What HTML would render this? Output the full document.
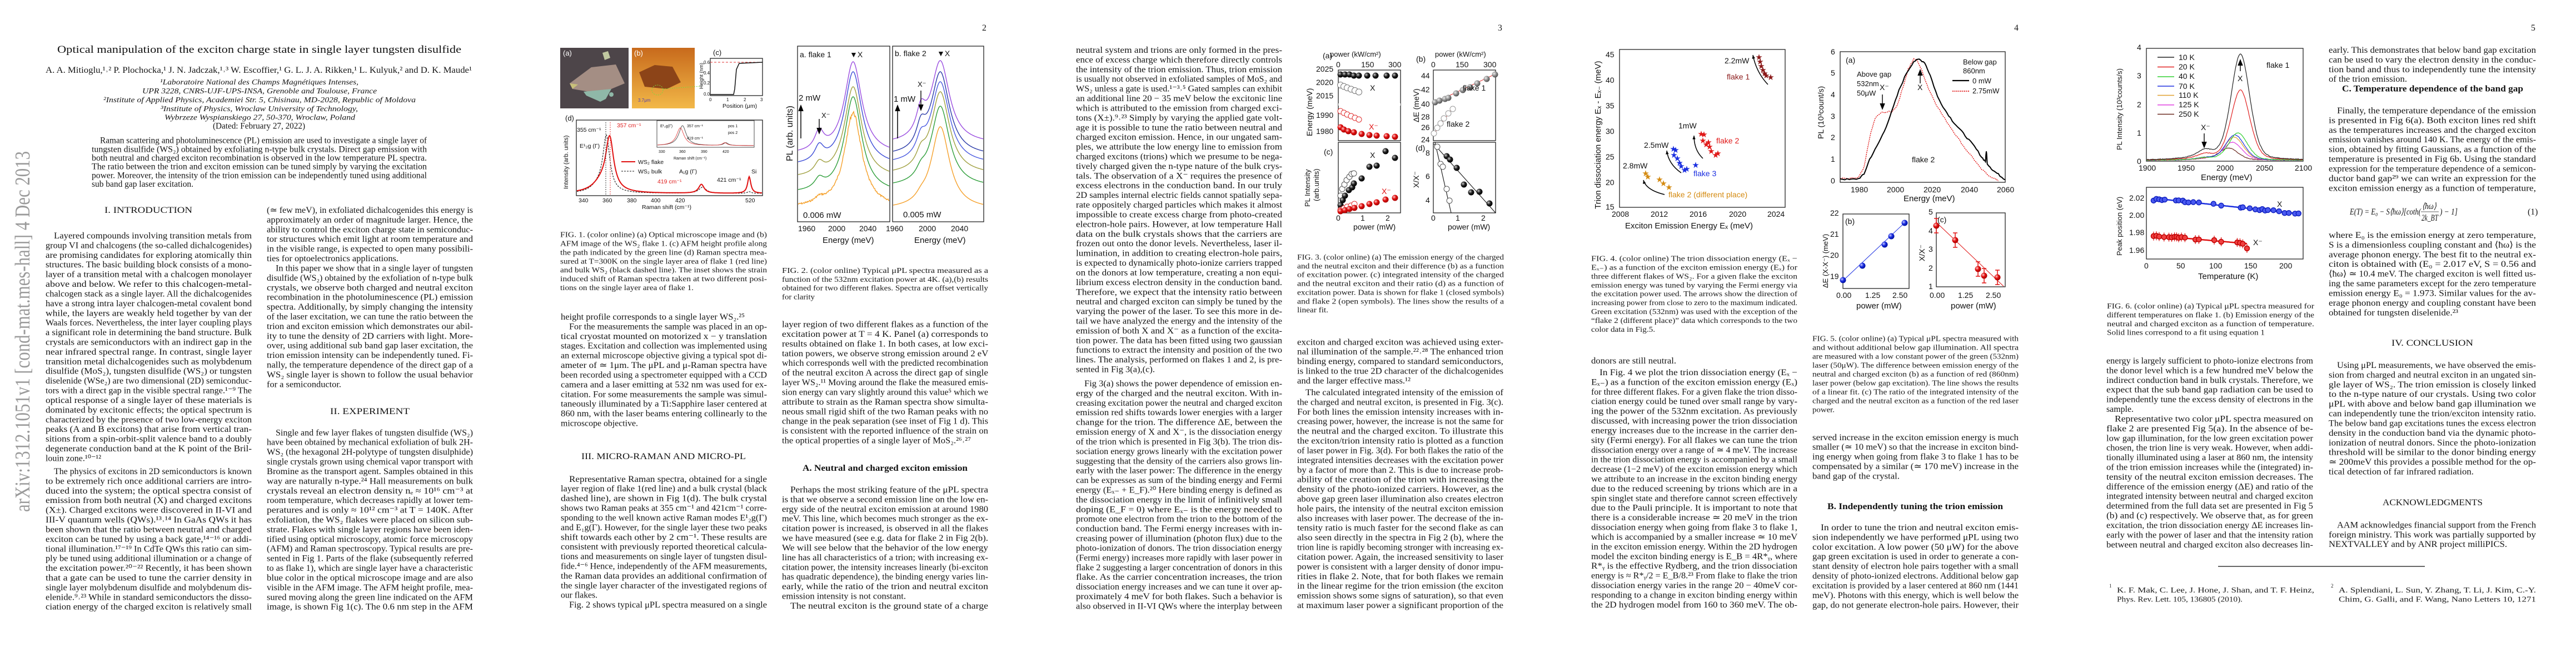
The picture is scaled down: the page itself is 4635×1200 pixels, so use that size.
<!DOCTYPE html>
<html><head><meta charset="utf-8">
<style>
html,body{margin:0;padding:0;background:#fff;}
svg{display:block;}
.b{font-family:"Liberation Serif",serif;font-size:15.8px;fill:#151515;}
.c{font-family:"Liberation Serif",serif;font-size:14px;fill:#1a1a1a;}
.h{font-family:"Liberation Serif",serif;font-size:15.5px;fill:#111;font-weight:bold;}
.s{font-family:"Liberation Sans",sans-serif;font-size:13px;fill:#111;}
.sm{font-family:"Liberation Sans",sans-serif;font-size:10.5px;fill:#111;}
.fr{fill:none;stroke:#222;stroke-width:1.3;}
</style></head><body>
<svg id="root" width="4635" height="1200" viewBox="0 0 4635 1200" xmlns="http://www.w3.org/2000/svg">
<defs>
<radialGradient id="gk" cx="35%" cy="35%" r="65%"><stop offset="0" stop-color="#ccc"/><stop offset="0.5" stop-color="#222"/><stop offset="1" stop-color="#000"/></radialGradient>
<radialGradient id="gr" cx="35%" cy="35%" r="65%"><stop offset="0" stop-color="#fcc"/><stop offset="0.5" stop-color="#e01010"/><stop offset="1" stop-color="#a00"/></radialGradient>
<radialGradient id="gg" cx="35%" cy="35%" r="65%"><stop offset="0" stop-color="#eee"/><stop offset="0.6" stop-color="#888"/><stop offset="1" stop-color="#555"/></radialGradient>
<radialGradient id="gb" cx="35%" cy="35%" r="65%"><stop offset="0" stop-color="#ccf"/><stop offset="0.5" stop-color="#1a2ee0"/><stop offset="1" stop-color="#0010a0"/></radialGradient>
<linearGradient id="afm" x1="0" y1="0" x2="0" y2="1"><stop offset="0" stop-color="#c86a1c"/><stop offset="1" stop-color="#f2b848"/></linearGradient>
</defs>
<rect width="4635" height="1200" fill="#fff"/>

<!-- arXiv stamp -->
<text transform="rotate(-90)" x="-921" y="53" textLength="649" style="font-family:'Liberation Serif',serif;font-size:38px;fill:#9a9a9a;">arXiv:1312.1051v1  [cond-mat.mes-hall]  4 Dec 2013</text>

<!-- ================= PAGE 1 ================= -->
<text x="103" y="95" textLength="727" style="font-family:'Liberation Serif',serif;font-size:19px;fill:#111;">Optical manipulation of the exciton charge state in single layer tungsten disulfide</text>
<text x="82" y="131" textLength="767" class="b">A. A. Mitioglu,¹˒² P. Plochocka,¹ J. N. Jadczak,¹˒³ W. Escoffier,¹ G. L. J. A. Rikken,¹ L. Kulyuk,² and D. K. Maude¹</text>
<g class="b" style="font-style:italic;font-size:14px">
<text x="288" y="152" textLength="357">¹Laboratoire National des Champs Magnétiques Intenses,</text>
<text x="256" y="168" textLength="422">UPR 3228, CNRS-UJF-UPS-INSA, Grenoble and Toulouse, France</text>
<text x="186" y="184" textLength="562">²Institute of Applied Physics, Academiei Str. 5, Chisinau, MD-2028, Republic of Moldova</text>
<text x="289" y="200" textLength="355">³Institute of Physics, Wroclaw University of Technology,</text>
<text x="296" y="215.5" textLength="343">Wybrzeze Wyspianskiego 27, 50-370, Wroclaw, Poland</text>
</g>
<text x="383" y="231.5" textLength="166" class="b">(Dated: February 27, 2022)</text>
<text class="b">
<tspan x="180" y="257.6" textLength="588">Raman scattering and photoluminescence (PL) emission are used to investigate a single layer of</tspan>
<tspan x="165" dy="15.7" textLength="603">tungsten disulfide (WS₂) obtained by exfoliating n-type bulk crystals. Direct gap emission with</tspan>
<tspan x="165" dy="15.7" textLength="603">both neutral and charged exciton recombination is observed in the low temperature PL spectra.</tspan>
<tspan x="165" dy="15.7" textLength="603">The ratio between the trion and exciton emission can be tuned simply by varying the excitation</tspan>
<tspan x="165" dy="15.7" textLength="603">power. Moreover, the intensity of the trion emission can be independently tuned using additional</tspan>
<tspan x="165" dy="15.7" textLength="183">sub band gap laser excitation.</tspan>
</text>
<text x="188" y="383" textLength="158" class="b">I.   INTRODUCTION</text>

<text class="b">
<tspan x="97" y="429" textLength="356">Layered compounds involving transition metals from</tspan>
<tspan x="82" dy="17.41" textLength="371">group VI and chalcogens (the so-called dichalcogenides)</tspan>
<tspan x="82" dy="17.41" textLength="371">are promising candidates for exploring atomically thin</tspan>
<tspan x="82" dy="17.41" textLength="371">structures. The basic building block consists of a mono-</tspan>
<tspan x="82" dy="17.41" textLength="371">layer of a transition metal with a chalcogen monolayer</tspan>
<tspan x="82" dy="17.41" textLength="371">above and below. We refer to this chalcogen-metal-</tspan>
<tspan x="82" dy="17.41" textLength="371">chalcogen stack as a single layer. All the dichalcogenides</tspan>
<tspan x="82" dy="17.41" textLength="371">have a strong intra layer chalcogen-metal covalent bond</tspan>
<tspan x="82" dy="17.41" textLength="371">while, the layers are weakly held together by van der</tspan>
<tspan x="82" dy="17.41" textLength="371">Waals forces. Nevertheless, the inter layer coupling plays</tspan>
<tspan x="82" dy="17.41" textLength="371">a significant role in determining the band structure. Bulk</tspan>
<tspan x="82" dy="17.41" textLength="371">crystals are semiconductors with an indirect gap in the</tspan>
<tspan x="82" dy="17.41" textLength="371">near infrared spectral range. In contrast, single layer</tspan>
<tspan x="82" dy="17.41" textLength="371">transition metal dichalcogenides such as molybdenum</tspan>
<tspan x="82" dy="17.41" textLength="371">disulfide (MoS₂), tungsten disulfide (WS₂) or tungsten</tspan>
<tspan x="82" dy="17.41" textLength="371">diselenide (WSe₂) are two dimensional (2D) semiconduc-</tspan>
<tspan x="82" dy="17.41" textLength="371">tors with a direct gap in the visible spectral range.¹⁻⁹ The</tspan>
<tspan x="82" dy="17.41" textLength="371">optical response of a single layer of these materials is</tspan>
<tspan x="82" dy="17.41" textLength="371">dominated by excitonic effects; the optical spectrum is</tspan>
<tspan x="82" dy="17.41" textLength="371">characterized by the presence of two low-energy exciton</tspan>
<tspan x="82" dy="17.41" textLength="371">peaks (A and B excitons) that arise from vertical tran-</tspan>
<tspan x="82" dy="17.41" textLength="371">sitions from a spin-orbit-split valence band to a doubly</tspan>
<tspan x="82" dy="17.41" textLength="371">degenerate conduction band at the K point of the Bril-</tspan>
<tspan x="82" dy="17.41" textLength="100">louin zone.¹⁰⁻¹²</tspan>
</text>
<text class="b">
<tspan x="97" y="853" textLength="356">The physics of excitons in 2D semiconductors is known</tspan>
<tspan x="82" dy="17.41" textLength="371">to be extremely rich once additional carriers are intro-</tspan>
<tspan x="82" dy="17.41" textLength="371">duced into the system; the optical spectra consist of</tspan>
<tspan x="82" dy="17.41" textLength="371">emission from both neutral (X) and charged excitons</tspan>
<tspan x="82" dy="17.41" textLength="371">(X±). Charged excitons were discovered in II-VI and</tspan>
<tspan x="82" dy="17.41" textLength="371">III-V quantum wells (QWs).¹³˒¹⁴ In GaAs QWs it has</tspan>
<tspan x="82" dy="17.41" textLength="371">been shown that the ratio between neutral and charged</tspan>
<tspan x="82" dy="17.41" textLength="371">exciton can be tuned by using a back gate,¹⁴⁻¹⁶ or addi-</tspan>
<tspan x="82" dy="17.41" textLength="371">tional illumination.¹⁷⁻¹⁹ In CdTe QWs this ratio can sim-</tspan>
<tspan x="82" dy="17.41" textLength="371">ply be tuned using additional illumination or a change of</tspan>
<tspan x="82" dy="17.41" textLength="371">the excitation power.²⁰⁻²² Recently, it has been shown</tspan>
<tspan x="82" dy="17.41" textLength="371">that a gate can be used to tune the carrier density in</tspan>
<tspan x="82" dy="17.41" textLength="371">single layer molybdenum disulfide and molybdenum dis-</tspan>
<tspan x="82" dy="17.41" textLength="371">elenide.⁹˒²³ While in standard semiconductors the disso-</tspan>
<tspan x="82" dy="17.41" textLength="371">ciation energy of the charged exciton is relatively small</tspan>
</text>

<text class="b">
<tspan x="480" y="383" textLength="371">(≃ few meV), in exfoliated dichalcogenides this energy is</tspan>
<tspan x="480" dy="17.41" textLength="371">approximately an order of magnitude larger. Hence, the</tspan>
<tspan x="480" dy="17.41" textLength="371">ability to control the exciton charge state in semiconduc-</tspan>
<tspan x="480" dy="17.41" textLength="371">tor structures which emit light at room temperature and</tspan>
<tspan x="480" dy="17.41" textLength="371">in the visible range, is expected to open many possibili-</tspan>
<tspan x="480" dy="17.41" textLength="237">ties for optoelectronics applications.</tspan>
<tspan x="496" dy="17.41" textLength="355">In this paper we show that in a single layer of tungsten</tspan>
<tspan x="480" dy="17.41" textLength="371">disulfide (WS₂) obtained by the exfoliation of n-type bulk</tspan>
<tspan x="480" dy="17.41" textLength="371">crystals, we observe both charged and neutral exciton</tspan>
<tspan x="480" dy="17.41" textLength="371">recombination in the photoluminescence (PL) emission</tspan>
<tspan x="480" dy="17.41" textLength="371">spectra. Additionally, by simply changing the intensity</tspan>
<tspan x="480" dy="17.41" textLength="371">of the laser excitation, we can tune the ratio between the</tspan>
<tspan x="480" dy="17.41" textLength="371">trion and exciton emission which demonstrates our abil-</tspan>
<tspan x="480" dy="17.41" textLength="371">ity to tune the density of 2D carriers with light. More-</tspan>
<tspan x="480" dy="17.41" textLength="371">over, using additional sub band gap laser excitation, the</tspan>
<tspan x="480" dy="17.41" textLength="371">trion emission intensity can be independently tuned. Fi-</tspan>
<tspan x="480" dy="17.41" textLength="371">nally, the temperature dependence of the direct gap of a</tspan>
<tspan x="480" dy="17.41" textLength="371">WS₂ single layer is shown to follow the usual behavior</tspan>
<tspan x="480" dy="17.41" textLength="134">for a semiconductor.</tspan>
</text>
<text x="594" y="745" textLength="143" class="b">II.   EXPERIMENT</text>
<text class="b">
<tspan x="496" y="783.3" textLength="355">Single and few layer flakes of tungsten disulfide (WS₂)</tspan>
<tspan x="480" dy="17.41" textLength="371">have been obtained by mechanical exfoliation of bulk 2H-</tspan>
<tspan x="480" dy="17.41" textLength="371">WS₂ (the hexagonal 2H-polytype of tungsten disulphide)</tspan>
<tspan x="480" dy="17.41" textLength="371">single crystals grown using chemical vapor transport with</tspan>
<tspan x="480" dy="17.41" textLength="371">Bromine as the transport agent. Samples obtained in this</tspan>
<tspan x="480" dy="17.41" textLength="371">way are naturally n-type.²⁴ Hall measurements on bulk</tspan>
<tspan x="480" dy="17.41" textLength="371">crystals reveal an electron density nₑ ≈ 10¹⁶ cm⁻³ at</tspan>
<tspan x="480" dy="17.41" textLength="371">room temperature, which decreases rapidly at lower tem-</tspan>
<tspan x="480" dy="17.41" textLength="371">peratures and is only ≈ 10¹² cm⁻³ at T = 140K. After</tspan>
<tspan x="480" dy="17.41" textLength="371">exfoliation, the WS₂ flakes were placed on silicon sub-</tspan>
<tspan x="480" dy="17.41" textLength="371">strate. Flakes with single layer regions have been iden-</tspan>
<tspan x="480" dy="17.41" textLength="371">tified using optical microscopy, atomic force microscopy</tspan>
<tspan x="480" dy="17.41" textLength="371">(AFM) and Raman spectroscopy. Typical results are pre-</tspan>
<tspan x="480" dy="17.41" textLength="371">sented in Fig 1. Parts of the flake (subsequently referred</tspan>
<tspan x="480" dy="17.41" textLength="371">to as flake 1), which are single layer have a characteristic</tspan>
<tspan x="480" dy="17.41" textLength="371">blue color in the optical microscope image and are also</tspan>
<tspan x="480" dy="17.41" textLength="371">visible in the AFM image. The AFM height profile, mea-</tspan>
<tspan x="480" dy="17.41" textLength="371">sured moving along the green line indicated on the AFM</tspan>
<tspan x="480" dy="17.41" textLength="371">image, is shown Fig 1(c). The 0.6 nm step in the AFM</tspan>
</text>

<!-- ================= PAGE 2 ================= -->
<text x="1767" y="55" class="b">2</text>
<rect x="1008" y="86" width="123" height="109" fill="#4d4549"/>
<polygon points="1025,150 1064,121 1108,116 1124,150 1100,160 1060,165 1030,160" fill="#a48e84"/>
<polygon points="1025,150 1030,160 1040,152" fill="#c8c07a"/>
<polygon points="1050,165 1100,160 1090,178 1080,183 1055,172" fill="#8fb8a8"/>
<polygon points="1084,95 1094,92 1098,104 1088,108" fill="#c0c8a0"/>
<circle cx="1100" cy="170" r="4" fill="#8fb8a8"/>
<text x="1013" y="100" class="s" style="fill:#fff">(a)</text>
<rect x="1137" y="86" width="113" height="109" fill="url(#afm)"/>
<polygon points="1150,130 1178,117 1210,120 1225,148 1200,160 1160,156" fill="#8c4418"/>
<ellipse cx="1183" cy="162" rx="10" ry="9" fill="none" stroke="#7cd83c" stroke-dasharray="2,2"/>
<line x1="1193" y1="160" x2="1262" y2="155" stroke="#7cd83c" stroke-dasharray="2,2"/>
<text x="1141" y="100" class="s" style="fill:#fff">(b)</text>
<text x="1148" y="183" class="sm" style="fill:#5040b0;font-size:8px">3.7μm</text>
<text x="1283" y="99" class="s">(c)</text>
<rect x="1278" y="105" width="94" height="67" class="fr"/>
<line x1="1278" y1="112" x2="1372" y2="112" stroke="#e03030" stroke-dasharray="4,3"/>
<path d="M1278,170 L1320,170 L1322,160 L1325,125 L1330,114 L1372,112" fill="none" stroke="#111" stroke-width="1.5"/>
<g class="sm" style="font-size:8px"><text x="1266" y="172">0.0</text><text x="1266" y="152">0.2</text><text x="1266" y="134">0.4</text><text x="1266" y="115">0.6</text>
<text x="1276" y="182">0</text><text x="1307" y="182">1</text><text x="1338" y="182">2</text><text x="1368" y="182">3</text></g>
<text x="1300" y="194" class="sm">Position (μm)</text>
<text transform="translate(1265,160) rotate(-90)" class="sm" style="font-size:9px">Height (nm)</text>
<text x="1017" y="217" class="s">(d)</text>
<rect x="1037" y="216" width="335" height="136" class="fr"/>
<rect x="1182" y="217" width="175" height="48" class="fr" style="stroke-width:0.8"/>
<g id="f1"></g>
<line x1="1090" y1="220" x2="1090" y2="350" stroke="#333" stroke-dasharray="2,2"/>
<line x1="1098" y1="220" x2="1098" y2="350" stroke="#e03030" stroke-dasharray="2,2"/>
<text x="1038" y="237" class="sm">355 cm⁻¹</text>
<text x="1110" y="229" class="sm" style="fill:#e02020">357 cm⁻¹</text>
<text x="1043" y="266" class="sm">E¹₂g (Γ)</text>
<line x1="1118" y1="291" x2="1143" y2="291" stroke="#e01010" stroke-width="2"/>
<text x="1148" y="295" class="sm">WS₂ flake</text>
<line x1="1118" y1="308" x2="1143" y2="308" stroke="#111" stroke-dasharray="3,2"/>
<text x="1148" y="312" class="sm">WS₂ bulk</text>
<text x="1222" y="312" class="sm">A₁g (Γ)</text>
<text x="1183" y="330" class="sm" style="fill:#e02020">419 cm⁻¹</text>
<text x="1290" y="327" class="sm">421 cm⁻¹</text>
<text x="1352" y="312" class="sm">Si</text>
<g class="sm"><text x="1041" y="364">340</text><text x="1084" y="364">360</text><text x="1128" y="364">380</text><text x="1171" y="364">400</text><text x="1215" y="364">420</text><text x="1341" y="364">520</text></g>
<text x="1155" y="376" class="sm">Raman shift (cm⁻¹)</text>
<text transform="translate(1022,340) rotate(-90)" class="sm" style="font-size:11px">Intensity (arb. units)</text>
<g class="sm" style="font-size:7px"><text x="1185" y="275">330</text><text x="1222" y="275">360</text><text x="1261" y="275">390</text><text x="1300" y="275">420</text><text x="1212" y="287">Raman shift (cm⁻¹)</text>
<text x="1236" y="229">357 cm⁻¹</text><text x="1310" y="229">pos 1</text><text x="1310" y="241">pos 2</text><text x="1236" y="251">419 cm⁻¹</text><text x="1188" y="229">E¹₂g(Γ)</text></g>
<text class="c">
<tspan x="1008" y="426.7" textLength="372">FIG. 1. (color online) (a) Optical microscope image and (b)</tspan>
<tspan x="1008" dy="15.85" textLength="372">AFM image of the WS₂ flake 1. (c) AFM height profile along</tspan>
<tspan x="1008" dy="15.85" textLength="372">the path indicated by the green line (d) Raman spectra mea-</tspan>
<tspan x="1008" dy="15.85" textLength="372">sured at T=300K on the single layer area of flake 1 (red line)</tspan>
<tspan x="1008" dy="15.85" textLength="372">and bulk WS₂ (black dashed line). The inset shows the strain</tspan>
<tspan x="1008" dy="15.85" textLength="372">induced shift of Raman spectra taken at two different posi-</tspan>
<tspan x="1008" dy="15.85" textLength="240">tions on the single layer area of flake 1.</tspan>
</text>
<text class="b">
<tspan x="1009" y="575" textLength="331">height profile corresponds to a single layer WS₂.²⁵</tspan>
<tspan x="1024" dy="17.41" textLength="356">For the measurements the sample was placed in an op-</tspan>
<tspan x="1009" dy="17.41" textLength="371">tical cryostat mounted on motorized x − y translation</tspan>
<tspan x="1009" dy="17.41" textLength="371">stages. Excitation and collection was implemented using</tspan>
<tspan x="1009" dy="17.41" textLength="371">an external microscope objective giving a typical spot di-</tspan>
<tspan x="1009" dy="17.41" textLength="371">ameter of ≃ 1μm. The μPL and μ-Raman spectra have</tspan>
<tspan x="1009" dy="17.41" textLength="371">been recorded using a spectrometer equipped with a CCD</tspan>
<tspan x="1009" dy="17.41" textLength="371">camera and a laser emitting at 532 nm was used for ex-</tspan>
<tspan x="1009" dy="17.41" textLength="371">citation. For some measurements the sample was simul-</tspan>
<tspan x="1009" dy="17.41" textLength="371">taneously illuminated by a Ti:Sapphire laser centered at</tspan>
<tspan x="1009" dy="17.41" textLength="371">860 nm, with the laser beams entering collinearly to the</tspan>
<tspan x="1009" dy="17.41" textLength="139">microscope objective.</tspan>
</text>
<text x="1046" y="826" textLength="296" class="b">III.   MICRO-RAMAN AND MICRO-PL</text>
<text class="b">
<tspan x="1024" y="866.8" textLength="356">Representative Raman spectra, obtained for a single</tspan>
<tspan x="1009" dy="17.41" textLength="371">layer region of flake 1(red line) and a bulk crystal (black</tspan>
<tspan x="1009" dy="17.41" textLength="371">dashed line), are shown in Fig 1(d). The bulk crystal</tspan>
<tspan x="1009" dy="17.41" textLength="371">shows two Raman peaks at 355 cm⁻¹ and 421cm⁻¹ corre-</tspan>
<tspan x="1009" dy="17.41" textLength="371">sponding to the well known active Raman modes E¹₂g(Γ)</tspan>
<tspan x="1009" dy="17.41" textLength="371">and E₁g(Γ). However, for the single layer these two peaks</tspan>
<tspan x="1009" dy="17.41" textLength="371">shift towards each other by 2 cm⁻¹. These results are</tspan>
<tspan x="1009" dy="17.41" textLength="371">consistent with previously reported theoretical calcula-</tspan>
<tspan x="1009" dy="17.41" textLength="371">tions and measurements on single layer of tungsten disul-</tspan>
<tspan x="1009" dy="17.41" textLength="371">fide.⁴⁻⁶ Hence, independently of the AFM measurements,</tspan>
<tspan x="1009" dy="17.41" textLength="371">the Raman data provides an additional confirmation of</tspan>
<tspan x="1009" dy="17.41" textLength="371">the single layer character of the investigated regions of</tspan>
<tspan x="1009" dy="17.41" textLength="66">our flakes.</tspan>
<tspan x="1024" dy="17.41" textLength="356">Fig. 2 shows typical μPL spectra measured on a single</tspan>
</text>

<rect x="1435" y="83" width="166" height="316" class="fr"/>
<rect x="1606" y="83" width="164" height="316" class="fr"/>
<g id="f2"></g>
<text x="1439" y="103" class="s" style="font-size:14px">a.  flake 1</text>
<text x="1529" y="103" class="s" style="font-size:14px">▼X</text>
<text x="1610" y="101" class="s" style="font-size:14px">b. flake 2</text>
<text x="1686" y="101" class="s" style="font-size:14px">▼X</text>
<text x="1437" y="181" class="s" style="font-size:15px">2 mW</text>
<text x="1608" y="183" class="s" style="font-size:15px">1 mW</text>
<path d="M1441,249 L1441,193 M1437,200 L1441,190 L1445,200" stroke="#000" stroke-width="1.5" fill="#000"/>
<path d="M1615,249 L1615,193 M1611,200 L1615,190 L1619,200" stroke="#000" stroke-width="1.5" fill="#000"/>
<text x="1478" y="212" class="s">X⁻</text>
<path d="M1474,214 L1474,238 M1470,230 L1474,240 L1478,230" stroke="#000" stroke-width="1.4" fill="#000"/>
<text x="1651" y="156" class="s">X⁻</text>
<path d="M1657,163 L1657,196 M1653,188 L1657,198 L1661,188" stroke="#000" stroke-width="1.4" fill="#000"/>
<text x="1445" y="392" class="s" style="font-size:15px">0.006 mW</text>
<text x="1625" y="391" class="s" style="font-size:15px">0.005 mW</text>
<g class="s" style="font-size:14px"><text x="1436" y="416">1960</text><text x="1490" y="416">2000</text><text x="1546" y="416">2040</text><text x="1594" y="416">1960</text><text x="1653" y="416">2000</text><text x="1711" y="416">2040</text></g>
<text x="1480" y="437" class="s" style="font-size:15px">Energy (meV)</text>
<text x="1645" y="437" class="s" style="font-size:15px">Energy (meV)</text>
<text transform="translate(1426,290) rotate(-90)" class="s" style="font-size:16px">PL (arb. units)</text>
<text class="c">
<tspan x="1407" y="491" textLength="371">FIG. 2. (color online) Typical μPL spectra measured as a</tspan>
<tspan x="1407" dy="15.85" textLength="371">function of the 532nm excitation power at 4K. (a),(b) results</tspan>
<tspan x="1407" dy="15.85" textLength="371">obtained for two different flakes. Spectra are offset vertically</tspan>
<tspan x="1407" dy="15.85" textLength="59">for clarity</tspan>
</text>
<text class="b">
<tspan x="1407" y="588.6" textLength="371">layer region of two different flakes as a function of the</tspan>
<tspan x="1407" dy="17.41" textLength="371">excitation power at T = 4 K. Panel (a) corresponds to</tspan>
<tspan x="1407" dy="17.41" textLength="371">results obtained on flake 1. In both cases, at low exci-</tspan>
<tspan x="1407" dy="17.41" textLength="371">tation powers, we observe strong emission around 2 eV</tspan>
<tspan x="1407" dy="17.41" textLength="371">which corresponds well with the predicted recombination</tspan>
<tspan x="1407" dy="17.41" textLength="371">of the neutral exciton A across the direct gap of single</tspan>
<tspan x="1407" dy="17.41" textLength="371">layer WS₂.¹¹ Moving around the flake the measured emis-</tspan>
<tspan x="1407" dy="17.41" textLength="371">sion energy can vary slightly around this value⁵ which we</tspan>
<tspan x="1407" dy="17.41" textLength="371">attribute to strain as the Raman spectra show simulta-</tspan>
<tspan x="1407" dy="17.41" textLength="371">neous small rigid shift of the two Raman peaks with no</tspan>
<tspan x="1407" dy="17.41" textLength="371">change in the peak separation (see inset of Fig 1 d). This</tspan>
<tspan x="1407" dy="17.41" textLength="371">is consistent with the reported influence of the strain on</tspan>
<tspan x="1407" dy="17.41" textLength="340">the optical properties of a single layer of MoS₂.²⁶˒²⁷</tspan>
</text>
<text x="1444" y="847" textLength="297" class="h">A.   Neutral and charged exciton emission</text>
<text class="b">
<tspan x="1422" y="886" textLength="356">Perhaps the most striking feature of the μPL spectra</tspan>
<tspan x="1407" dy="17.41" textLength="371">is that we observe a second emission line on the low en-</tspan>
<tspan x="1407" dy="17.41" textLength="371">ergy side of the neutral exciton emission at around 1980</tspan>
<tspan x="1407" dy="17.41" textLength="371">meV. This line, which becomes much stronger as the ex-</tspan>
<tspan x="1407" dy="17.41" textLength="371">citation power is increased, is observed in all the flakes</tspan>
<tspan x="1407" dy="17.41" textLength="371">we have measured (see e.g. data for flake 2 in Fig 2(b).</tspan>
<tspan x="1407" dy="17.41" textLength="371">We will see below that the behavior of the low energy</tspan>
<tspan x="1407" dy="17.41" textLength="371">line has all characteristics of a trion; with increasing ex-</tspan>
<tspan x="1407" dy="17.41" textLength="371">citation power, the intensity increases linearly (bi-exciton</tspan>
<tspan x="1407" dy="17.41" textLength="371">has quadratic dependence), the binding energy varies lin-</tspan>
<tspan x="1407" dy="17.41" textLength="371">early, while the ratio of the trion and neutral exciton</tspan>
<tspan x="1407" dy="17.41" textLength="223">emission intensity is not constant.</tspan>
<tspan x="1422" dy="17.41" textLength="356">The neutral exciton is the ground state of a charge</tspan>
</text>

<!-- ================= PAGE 3 ================= -->
<text x="2695" y="55" class="b">3</text>
<text class="b">
<tspan x="1936" y="95" textLength="371">neutral system and trions are only formed in the pres-</tspan>
<tspan x="1936" dy="17.41" textLength="371">ence of excess charge which therefore directly controls</tspan>
<tspan x="1936" dy="17.41" textLength="371">the intensity of the trion emission. Thus, trion emission</tspan>
<tspan x="1936" dy="17.41" textLength="371">is usually not observed in exfoliated samples of MoS₂ and</tspan>
<tspan x="1936" dy="17.41" textLength="371">WS₂ unless a gate is used.¹⁻³˒⁵ Gated samples can exhibit</tspan>
<tspan x="1936" dy="17.41" textLength="371">an additional line 20 − 35 meV below the excitonic line</tspan>
<tspan x="1936" dy="17.41" textLength="371">which is attributed to the emission from charged exci-</tspan>
<tspan x="1936" dy="17.41" textLength="371">tons (X±).⁹˒²³ Simply by varying the applied gate volt-</tspan>
<tspan x="1936" dy="17.41" textLength="371">age it is possible to tune the ratio between neutral and</tspan>
<tspan x="1936" dy="17.41" textLength="371">charged exciton emission. Hence, in our ungated sam-</tspan>
<tspan x="1936" dy="17.41" textLength="371">ples, we attribute the low energy line to emission from</tspan>
<tspan x="1936" dy="17.41" textLength="371">charged excitons (trions) which we presume to be nega-</tspan>
<tspan x="1936" dy="17.41" textLength="371">tively charged given the n-type nature of the bulk crys-</tspan>
<tspan x="1936" dy="17.41" textLength="371">tals. The observation of a X⁻ requires the presence of</tspan>
<tspan x="1936" dy="17.41" textLength="371">excess electrons in the conduction band. In our truly</tspan>
<tspan x="1936" dy="17.41" textLength="371">2D samples internal electric fields cannot spatially sepa-</tspan>
<tspan x="1936" dy="17.41" textLength="371">rate oppositely charged particles which makes it almost</tspan>
<tspan x="1936" dy="17.41" textLength="371">impossible to create excess charge from photo-created</tspan>
<tspan x="1936" dy="17.41" textLength="371">electron-hole pairs. However, at low temperature Hall</tspan>
<tspan x="1936" dy="17.41" textLength="371">data on the bulk crystals shows that the carriers are</tspan>
<tspan x="1936" dy="17.41" textLength="371">frozen out onto the donor levels. Nevertheless, laser il-</tspan>
<tspan x="1936" dy="17.41" textLength="371">lumination, in addition to creating electron-hole pairs,</tspan>
<tspan x="1936" dy="17.41" textLength="371">is expected to dynamically photo-ionize carriers trapped</tspan>
<tspan x="1936" dy="17.41" textLength="371">on the donors at low temperature, creating a non equi-</tspan>
<tspan x="1936" dy="17.41" textLength="371">librium excess electron density in the conduction band.</tspan>
<tspan x="1936" dy="17.41" textLength="371">Therefore, we expect that the intensity ratio between</tspan>
<tspan x="1936" dy="17.41" textLength="371">neutral and charged exciton can simply be tuned by the</tspan>
<tspan x="1936" dy="17.41" textLength="371">varying the power of the laser. To see this more in de-</tspan>
<tspan x="1936" dy="17.41" textLength="371">tail we have analyzed the energy and the intensity of the</tspan>
<tspan x="1936" dy="17.41" textLength="371">emission of both X and X⁻ as a function of the excita-</tspan>
<tspan x="1936" dy="17.41" textLength="371">tion power. The data has been fitted using two gaussian</tspan>
<tspan x="1936" dy="17.41" textLength="371">functions to extract the intensity and position of the two</tspan>
<tspan x="1936" dy="17.41" textLength="371">lines. The analysis, performed on flakes 1 and 2, is pre-</tspan>
<tspan x="1936" dy="17.41" textLength="142">sented in Fig 3(a),(c).</tspan>
</text>
<text class="b">
<tspan x="1951" y="695" textLength="356">Fig 3(a) shows the power dependence of emission en-</tspan>
<tspan x="1936" dy="17.41" textLength="371">ergy of the charged and the neutral exciton. With in-</tspan>
<tspan x="1936" dy="17.41" textLength="371">creasing excitation power the neutral and charged exciton</tspan>
<tspan x="1936" dy="17.41" textLength="371">emission red shifts towards lower energies with a larger</tspan>
<tspan x="1936" dy="17.41" textLength="371">change for the trion. The difference ΔE, between the</tspan>
<tspan x="1936" dy="17.41" textLength="371">emission energy of X and X⁻, is the dissociation energy</tspan>
<tspan x="1936" dy="17.41" textLength="371">of the trion which is presented in Fig 3(b). The trion dis-</tspan>
<tspan x="1936" dy="17.41" textLength="371">sociation energy grows linearly with the excitation power</tspan>
<tspan x="1936" dy="17.41" textLength="371">suggesting that the density of the carriers also grows lin-</tspan>
<tspan x="1936" dy="17.41" textLength="371">early with the laser power: The difference in the energy</tspan>
<tspan x="1936" dy="17.41" textLength="371">can be expresses as sum of the binding energy and Fermi</tspan>
<tspan x="1936" dy="17.41" textLength="371">energy (Eₓ₋ + E_F).²⁰ Here binding energy is defined as</tspan>
<tspan x="1936" dy="17.41" textLength="371">the dissociation energy in the limit of infinitively small</tspan>
<tspan x="1936" dy="17.41" textLength="371">doping (E_F = 0) where Eₓ₋ is the energy needed to</tspan>
<tspan x="1936" dy="17.41" textLength="371">promote one electron from the trion to the bottom of the</tspan>
<tspan x="1936" dy="17.41" textLength="371">conduction band. The Fermi energy increases with in-</tspan>
<tspan x="1936" dy="17.41" textLength="371">creasing power of illumination (photon flux) due to the</tspan>
<tspan x="1936" dy="17.41" textLength="371">photo-ionization of donors. The trion dissociation energy</tspan>
<tspan x="1936" dy="17.41" textLength="371">(Fermi energy) increases more rapidly with laser power in</tspan>
<tspan x="1936" dy="17.41" textLength="371">flake 2 suggesting a larger concentration of donors in this</tspan>
<tspan x="1936" dy="17.41" textLength="371">flake. As the carrier concentration increases, the trion</tspan>
<tspan x="1936" dy="17.41" textLength="371">dissociation energy increases and we can tune it over ap-</tspan>
<tspan x="1936" dy="17.41" textLength="371">proximately 4 meV for both flakes. Such a behavior is</tspan>
<tspan x="1936" dy="17.41" textLength="371">also observed in II-VI QWs where the interplay between</tspan>
</text>

<rect x="2408" y="126" width="112" height="127" class="fr"/>
<rect x="2579" y="126" width="112" height="127" class="fr"/>
<rect x="2408" y="256" width="112" height="127" class="fr"/>
<rect x="2579" y="256" width="112" height="127" class="fr"/>
<g id="f3"></g>
<g class="s" style="font-size:14px">
<text x="2380" y="105">(a)</text><text x="2393" y="102" style="font-size:13px"> power (kW/cm²)</text>
<text x="2548" y="111">(b)</text><text x="2582" y="102" style="font-size:13px">power (kW/cm²)</text>
<text x="2404" y="121">0</text><text x="2449" y="121">150</text><text x="2498" y="121">300</text>
<text x="2575" y="121">0</text><text x="2619" y="121">150</text><text x="2669" y="121">300</text>
<text x="2368" y="129">2025</text><text x="2368" y="153">2020</text><text x="2368" y="177">2015</text><text x="2368" y="212">1990</text><text x="2368" y="241">1980</text>
<text x="2557" y="141">44</text><text x="2557" y="166">42</text><text x="2557" y="192">40</text><text x="2557" y="215">28</text><text x="2557" y="234">26</text><text x="2557" y="256">24</text>
<text x="2465" y="163">X</text><text x="2463" y="233" style="fill:#e01010">X⁻</text>
<text x="2632" y="163">flake 1</text><text x="2603" y="228">flake 2</text>
<text x="2382" y="278">(c)</text><text x="2547" y="271">(d)</text>
<text x="2465" y="284">X</text><text x="2486" y="349" style="fill:#e01010">X⁻</text>
<text x="2565" y="280">8</text><text x="2565" y="322">6</text><text x="2565" y="365">4</text>
<text x="2404" y="397">0</text><text x="2448" y="397">1</text><text x="2493" y="397">2</text>
<text x="2575" y="397">0</text><text x="2619" y="397">1</text><text x="2665" y="397">2</text>
<text x="2435" y="413">power (mW)</text><text x="2605" y="413">power (mW)</text>
</g>
<text transform="translate(2361,245) rotate(-90)" class="s" style="font-size:14px">Energy (meV)</text>
<text transform="translate(2553,220) rotate(-90)" class="s" style="font-size:14px">ΔE (meV)</text>
<text transform="translate(2357,372) rotate(-90)" class="s" style="font-size:13px">PL Intensity</text>
<text transform="translate(2373,362) rotate(-90)" class="s" style="font-size:13px">(arb.units)</text>
<text transform="translate(2553,338) rotate(-90)" class="s" style="font-size:14px">X/X⁻</text>
<text class="c">
<tspan x="2334" y="467" textLength="372">FIG. 3. (color online) (a) The emission energy of the charged</tspan>
<tspan x="2334" dy="15.85" textLength="372">and the neutral exciton and their difference (b) as a function</tspan>
<tspan x="2334" dy="15.85" textLength="372">of excitation power. (c) integrated intensity of the charged</tspan>
<tspan x="2334" dy="15.85" textLength="372">and the neutral exciton and their ratio (d) as a function of</tspan>
<tspan x="2334" dy="15.85" textLength="372">excitation power. Data is shown for flake 1 (closed symbols)</tspan>
<tspan x="2334" dy="15.85" textLength="372">and flake 2 (open symbols). The lines show the results of a</tspan>
<tspan x="2334" dy="15.85" textLength="56">linear fit.</tspan>
</text>
<text class="b">
<tspan x="2334" y="620.3" textLength="371">exciton and charged exciton was achieved using exter-</tspan>
<tspan x="2334" dy="17.41" textLength="371">nal illumination of the sample.²²˒²⁸ The enhanced trion</tspan>
<tspan x="2334" dy="17.41" textLength="371">binding energy, compared to standard semiconductors,</tspan>
<tspan x="2334" dy="17.41" textLength="371">is linked to the true 2D character of the dichalcogenides</tspan>
<tspan x="2334" dy="17.41" textLength="204">and the larger effective mass.¹²</tspan>
</text>
<text class="b">
<tspan x="2349" y="711" textLength="356">The calculated integrated intensity of the emission of</tspan>
<tspan x="2334" dy="17.41" textLength="371">the charged and neutral exciton, is presented in Fig. 3(c).</tspan>
<tspan x="2334" dy="17.41" textLength="371">For both lines the emission intensity increases with in-</tspan>
<tspan x="2334" dy="17.41" textLength="371">creasing power, however, the increase is not the same for</tspan>
<tspan x="2334" dy="17.41" textLength="371">the neutral and the charged exciton. To illustrate this</tspan>
<tspan x="2334" dy="17.41" textLength="371">the exciton/trion intensity ratio is plotted as a function</tspan>
<tspan x="2334" dy="17.41" textLength="371">of laser power in Fig. 3(d). For both flakes the ratio of the</tspan>
<tspan x="2334" dy="17.41" textLength="371">integrated intensities decreases with the excitation power</tspan>
<tspan x="2334" dy="17.41" textLength="371">by a factor of more than 2. This is due to increase prob-</tspan>
<tspan x="2334" dy="17.41" textLength="371">ability of the creation of the trion with increasing the</tspan>
<tspan x="2334" dy="17.41" textLength="371">density of the photo-ionized carriers. However, as the</tspan>
<tspan x="2334" dy="17.41" textLength="371">above gap green laser illumination also creates electron</tspan>
<tspan x="2334" dy="17.41" textLength="371">hole pairs, the intensity of the neutral exciton emission</tspan>
<tspan x="2334" dy="17.41" textLength="371">also increases with laser power. The decrease of the in-</tspan>
<tspan x="2334" dy="17.41" textLength="371">tensity ratio is much faster for the second flake as can</tspan>
<tspan x="2334" dy="17.41" textLength="371">also seen directly in the spectra in Fig 2 (b), where the</tspan>
<tspan x="2334" dy="17.41" textLength="371">trion line is rapidly becoming stronger with increasing ex-</tspan>
<tspan x="2334" dy="17.41" textLength="371">citation power. Again, the increased sensitivity to laser</tspan>
<tspan x="2334" dy="17.41" textLength="371">power is consistent with a larger density of donor impu-</tspan>
<tspan x="2334" dy="17.41" textLength="371">rities in flake 2. Note, that for both flakes we remain</tspan>
<tspan x="2334" dy="17.41" textLength="371">in the linear regime for the trion emission (the exciton</tspan>
<tspan x="2334" dy="17.41" textLength="371">emission shows some signs of saturation), so that even</tspan>
<tspan x="2334" dy="17.41" textLength="371">at maximum laser power a significant proportion of the</tspan>
</text>

<!-- ================= PAGE 4 ================= -->
<text x="3624" y="55" class="b">4</text>
<rect x="2914" y="89" width="298" height="284" class="fr"/>
<g id="f4"></g>
<g class="s" style="font-size:14px">
<text x="2889" y="103">45</text><text x="2889" y="149">40</text><text x="2889" y="195">35</text><text x="2889" y="241">30</text><text x="2889" y="287">25</text><text x="2889" y="333">20</text><text x="2889" y="377">15</text>
<text x="2900" y="390">2008</text><text x="2970" y="390">2012</text><text x="3040" y="390">2016</text><text x="3111" y="390">2020</text><text x="3180" y="390">2024</text>
<text x="2924" y="411" style="font-size:15px">Exciton Emission Energy Eₓ (meV)</text>
<text x="3103" y="114">2.2mW</text><text x="3107" y="143" style="fill:#8b1a1a">flake 1</text>
<text x="3020" y="231">1mW</text><text x="3088" y="258" style="fill:#e01818">flake 2</text>
<text x="2958" y="266">2.5mW</text><text x="3047" y="317" style="fill:#1a2ee0">flake 3</text>
<text x="2920" y="303">2.8mW</text><text x="3002" y="355" style="fill:#d48a10">flake 2 (different place)</text>
</g>
<text transform="translate(2880,376) rotate(-90)" class="s" style="font-size:15px">Trion dissociation energy Eₓ - Eₓ₋ (meV)</text>
<text class="c">
<tspan x="2863" y="469.6" textLength="371">FIG. 4. (color online) The trion dissociation energy (Eₓ −</tspan>
<tspan x="2863" dy="15.9" textLength="371">Eₓ₋) as a function of the exciton emission energy (Eₓ) for</tspan>
<tspan x="2863" dy="15.9" textLength="371">three different flakes of WS₂. For a given flake the exciton</tspan>
<tspan x="2863" dy="15.9" textLength="371">emission energy was tuned by varying the Fermi energy via</tspan>
<tspan x="2863" dy="15.9" textLength="371">the excitation power used. The arrows show the direction of</tspan>
<tspan x="2863" dy="15.9" textLength="371">increasing power from close to zero to the maximum indicated.</tspan>
<tspan x="2863" dy="15.9" textLength="371">Green excitation (532nm) was used with the exception of the</tspan>
<tspan x="2863" dy="15.9" textLength="371">“flake 2 (different place)” data which corresponds to the two</tspan>
<tspan x="2863" dy="15.9" textLength="115">color data in Fig.5.</tspan>
</text>
<text x="2863" y="654" textLength="153" class="b">donors are still neutral.</text>
<text class="b">
<tspan x="2878" y="675" textLength="356">In Fig. 4 we plot the trion dissociation energy (Eₓ −</tspan>
<tspan x="2863" dy="17.41" textLength="371">Eₓ₋) as a function of the exciton emission energy (Eₓ)</tspan>
<tspan x="2863" dy="17.41" textLength="371">for three different flakes. For a given flake the trion disso-</tspan>
<tspan x="2863" dy="17.41" textLength="371">ciation energy could be tuned over small range by vary-</tspan>
<tspan x="2863" dy="17.41" textLength="371">ing the power of the 532nm excitation. As previously</tspan>
<tspan x="2863" dy="17.41" textLength="371">discussed, with increasing power the trion dissociation</tspan>
<tspan x="2863" dy="17.41" textLength="371">energy increases due to the increase in the carrier den-</tspan>
<tspan x="2863" dy="17.41" textLength="371">sity (Fermi energy). For all flakes we can tune the trion</tspan>
<tspan x="2863" dy="17.41" textLength="371">dissociation energy over a range of ≃ 4 meV. The increase</tspan>
<tspan x="2863" dy="17.41" textLength="371">in the trion dissociation energy is accompanied by a small</tspan>
<tspan x="2863" dy="17.41" textLength="371">decrease (1−2 meV) of the exciton emission energy which</tspan>
<tspan x="2863" dy="17.41" textLength="371">we attribute to an increase in the exciton binding energy</tspan>
<tspan x="2863" dy="17.41" textLength="371">due to the reduced screening by trions which are in a</tspan>
<tspan x="2863" dy="17.41" textLength="371">spin singlet state and therefore cannot screen effectively</tspan>
<tspan x="2863" dy="17.41" textLength="371">due to the Pauli principle. It is important to note that</tspan>
<tspan x="2863" dy="17.41" textLength="371">there is a considerable increase ≃ 20 meV in the trion</tspan>
<tspan x="2863" dy="17.41" textLength="371">dissociation energy when going from flake 3 to flake 1,</tspan>
<tspan x="2863" dy="17.41" textLength="371">which is accompanied by a smaller increase ≃ 10 meV</tspan>
<tspan x="2863" dy="17.41" textLength="371">in the exciton emission energy. Within the 2D hydrogen</tspan>
<tspan x="2863" dy="17.41" textLength="371">model the exciton binding energy is E_B = 4R*ᵧ, where</tspan>
<tspan x="2863" dy="17.41" textLength="371">R*ᵧ is the effective Rydberg, and the trion dissociation</tspan>
<tspan x="2863" dy="17.41" textLength="371">energy is ≈ R*ᵧ/2 = E_B/8.²³ From flake to flake the trion</tspan>
<tspan x="2863" dy="17.41" textLength="371">dissociation energy varies in the range 20 − 40meV cor-</tspan>
<tspan x="2863" dy="17.41" textLength="371">responding to a change in exciton binding energy within</tspan>
<tspan x="2863" dy="17.41" textLength="371">the 2D hydrogen model from 160 to 360 meV. The ob-</tspan>
</text>

<rect x="3311" y="93" width="297" height="235" class="fr"/>
<rect x="3316" y="385" width="119" height="134" class="fr"/>
<rect x="3484" y="383" width="124" height="133" class="fr"/>
<g id="f5"></g>
<g class="s" style="font-size:14px">
<text x="3294" y="330">0</text><text x="3294" y="291">1</text><text x="3294" y="252">2</text><text x="3294" y="214">3</text><text x="3294" y="175">4</text><text x="3294" y="136">5</text><text x="3294" y="98">6</text>
<text x="3330" y="346">1980</text><text x="3395" y="346">2000</text><text x="3461" y="346">2020</text><text x="3528" y="346">2040</text><text x="3593" y="346">2060</text>
<text x="3425" y="362" style="font-size:15px">Energy (meV)</text>
<text x="3321" y="113">(a)</text>
<text x="3341" y="138" style="font-size:13px">Above gap</text><text x="3341" y="155" style="font-size:13px">532nm</text><text x="3341" y="172" style="font-size:13px">50μW</text>
<text x="3382" y="162">X⁻</text><text x="3450" y="162">X</text>
<text x="3440" y="292">flake 2</text>
<text x="3532" y="116" style="font-size:13px">Below gap</text><text x="3532" y="132" style="font-size:13px">860nm</text>
<text x="3549" y="150" style="font-size:13px">0 mW</text><text x="3549" y="168" style="font-size:13px">2.75mW</text>
<text x="3293" y="388">22</text><text x="3293" y="426">21</text><text x="3293" y="464">20</text><text x="3293" y="502">19</text>
<text x="3304" y="536">0.00</text><text x="3356" y="536">1.25</text><text x="3405" y="536">2.50</text>
<text x="3340" y="555" style="font-size:15px">power (mW)</text>
<text x="3320" y="403">(b)</text><text x="3486" y="400">(c)</text>
<text x="3470" y="386">5</text><text x="3470" y="420">4</text><text x="3470" y="453">3</text><text x="3470" y="487">2</text><text x="3470" y="520">1</text>
<text x="3472" y="536">0.00</text><text x="3523" y="536">1.25</text><text x="3573" y="536">2.50</text>
<text x="3510" y="555" style="font-size:15px">power (mW)</text>
</g>
<line x1="3513" y1="145" x2="3543" y2="145" stroke="#000" stroke-width="2.2"/>
<line x1="3513" y1="164" x2="3543" y2="164" stroke="#e01010" stroke-width="1.8" stroke-dasharray="2,1.5"/>
<path d="M3387,170 L3387,193 M3383,186 L3387,196 L3391,186" stroke="#000" stroke-width="1.4" fill="#000"/>
<path d="M3455,150 L3455,128 M3451,136 L3455,126 L3459,136" stroke="#000" stroke-width="1.4" fill="#000"/>
<text transform="translate(3281,250) rotate(-90)" class="s" style="font-size:14px">PL (10³count/s)</text>
<text transform="translate(3289,518) rotate(-90)" class="s" style="font-size:13px">ΔE (X-X⁻) (meV)</text>
<text transform="translate(3463,470) rotate(-90)" class="s" style="font-size:14px">X/X⁻</text>
<text class="c">
<tspan x="3261" y="613.4" textLength="371">FIG. 5. (color online) (a) Typical μPL spectra measured with</tspan>
<tspan x="3261" dy="16" textLength="371">and without additional below gap illumination. All spectra</tspan>
<tspan x="3261" dy="16" textLength="371">are measured with a low constant power of the green (532nm)</tspan>
<tspan x="3261" dy="16" textLength="371">laser (50μW). The difference between emission energy of the</tspan>
<tspan x="3261" dy="16" textLength="371">neutral and charged exciton (b) as a function of red (860nm)</tspan>
<tspan x="3261" dy="16" textLength="371">laser power (below gap excitation). The line shows the results</tspan>
<tspan x="3261" dy="16" textLength="371">of a linear fit. (c) The ratio of the integrated intensity of the</tspan>
<tspan x="3261" dy="16" textLength="371">charged and the neutral exciton as a function of the red laser</tspan>
<tspan x="3261" dy="16" textLength="40">power.</tspan>
</text>
<text class="b">
<tspan x="3261" y="791.8" textLength="371">served increase in the exciton emission energy is much</tspan>
<tspan x="3261" dy="17.41" textLength="371">smaller (≃ 10 meV) so that the increase in exciton bind-</tspan>
<tspan x="3261" dy="17.41" textLength="371">ing energy when going from flake 3 to flake 1 has to be</tspan>
<tspan x="3261" dy="17.41" textLength="371">compensated by a similar (≃ 170 meV) increase in the</tspan>
<tspan x="3261" dy="17.41" textLength="157">band gap of the crystal.</tspan>
</text>
<text x="3288" y="915.8" textLength="316" class="h">B.   Independently tuning the trion emission</text>
<text class="b">
<tspan x="3276" y="954" textLength="356">In order to tune the trion and neutral exciton emis-</tspan>
<tspan x="3261" dy="17.41" textLength="371">sion independently we have performed μPL using two</tspan>
<tspan x="3261" dy="17.41" textLength="371">color excitation. A low power (50 μW) for the above</tspan>
<tspan x="3261" dy="17.41" textLength="371">gap green excitation is used in order to generate a con-</tspan>
<tspan x="3261" dy="17.41" textLength="371">stant density of electron hole pairs together with a small</tspan>
<tspan x="3261" dy="17.41" textLength="371">density of photo-ionized electrons. Additional below gap</tspan>
<tspan x="3261" dy="17.41" textLength="371">excitation is provided by a laser centered at 860 nm (1441</tspan>
<tspan x="3261" dy="17.41" textLength="371">meV). Photons with this energy, which is well below the</tspan>
<tspan x="3261" dy="17.41" textLength="371">gap, do not generate electron-hole pairs. However, their</tspan>
</text>

<!-- ================= PAGE 5 ================= -->
<text x="4554" y="55" class="b">5</text>
<rect x="3862" y="87" width="282" height="203" class="fr"/>
<rect x="3862" y="337" width="282" height="129" class="fr"/>
<g id="f6"></g>
<g class="s" style="font-size:14px">
<text x="3845" y="295">0</text><text x="3845" y="244">1</text><text x="3845" y="193">2</text><text x="3845" y="141">3</text><text x="3845" y="90">4</text>
<text x="3848" y="307">1900</text><text x="3918" y="307">1950</text><text x="3988" y="307">2000</text><text x="4059" y="307">2050</text><text x="4129" y="307">2100</text>
<text x="3960" y="324" style="font-size:15px">Energy (meV)</text>
<text x="3920" y="108">10 K</text><text x="3920" y="125">20 K</text><text x="3920" y="142">40 K</text><text x="3920" y="160">70 K</text><text x="3920" y="176">110 K</text><text x="3920" y="193">125 K</text><text x="3920" y="210">250 K</text>
<text x="4078" y="122">flake 1</text><text x="4026" y="146">X</text><text x="3960" y="234">X⁻</text>
<text x="3831" y="361">2.02</text><text x="3831" y="392">2.00</text><text x="3831" y="423">1.98</text><text x="3831" y="455">1.96</text>
<text x="3858" y="483">0</text><text x="3916" y="483">50</text><text x="3975" y="483">100</text><text x="4038" y="483">150</text><text x="4101" y="483">200</text>
<text x="3955" y="502" style="font-size:15px">Temperature (K)</text>
<text x="4097" y="372">X</text><text x="4054" y="441">X⁻</text>
</g>
<path d="M4031,128 L4031,110 M4027,118 L4031,108 L4035,118" stroke="#000" stroke-width="1.4" fill="#000"/>
<path d="M3966,240 L3966,262 M3962,255 L3966,265 L3970,255" stroke="#000" stroke-width="1.4" fill="#000"/>
<text transform="translate(3818,270) rotate(-90)" class="s" style="font-size:13px">PL Intensity (10³counts/s)</text>
<text transform="translate(3818,460) rotate(-90)" class="s" style="font-size:13px">Peak position (eV)</text>
<text class="c">
<tspan x="3791" y="555" textLength="373">FIG. 6. (color online) (a) Typical μPL spectra measured for</tspan>
<tspan x="3791" dy="15.9" textLength="373">different temperatures on flake 1. (b) Emission energy of the</tspan>
<tspan x="3791" dy="15.9" textLength="373">neutral and charged exciton as a function of temperature.</tspan>
<tspan x="3791" dy="15.9" textLength="284">Solid lines correspond to a fit using equation 1</tspan>
</text>
<text class="b">
<tspan x="3790" y="654" textLength="372">energy is largely sufficient to photo-ionize electrons from</tspan>
<tspan x="3790" dy="17.41" textLength="372">the donor level which is a few hundred meV below the</tspan>
<tspan x="3790" dy="17.41" textLength="372">indirect conduction band in bulk crystals. Therefore, we</tspan>
<tspan x="3790" dy="17.41" textLength="372">expect that the sub band gap radiation can be used to</tspan>
<tspan x="3790" dy="17.41" textLength="372">independently tune the excess density of electrons in the</tspan>
<tspan x="3790" dy="17.41" textLength="49">sample.</tspan>
<tspan x="3805" dy="17.41" textLength="357">Representative two color μPL spectra measured on</tspan>
<tspan x="3790" dy="17.41" textLength="372">flake 2 are presented Fig 5(a). In the absence of be-</tspan>
<tspan x="3790" dy="17.41" textLength="372">low gap illumination, for the low green excitation power</tspan>
<tspan x="3790" dy="17.41" textLength="372">chosen, the trion line is very weak. However, when addi-</tspan>
<tspan x="3790" dy="17.41" textLength="372">tionally illuminated using a laser at 860 nm, the intensity</tspan>
<tspan x="3790" dy="17.41" textLength="372">of the trion emission increases while the (integrated) in-</tspan>
<tspan x="3790" dy="17.41" textLength="372">tensity of the neutral exciton emission decreases. The</tspan>
<tspan x="3790" dy="17.41" textLength="372">difference of the emission energy (ΔE) and ratio of the</tspan>
<tspan x="3790" dy="17.41" textLength="372">integrated intensity between neutral and charged exciton</tspan>
<tspan x="3790" dy="17.41" textLength="372">determined from the full data set are presented in Fig 5</tspan>
<tspan x="3790" dy="17.41" textLength="372">(b) and (c) respectively. We observe that, as for green</tspan>
<tspan x="3790" dy="17.41" textLength="372">excitation, the trion dissociation energy ΔE increases lin-</tspan>
<tspan x="3790" dy="17.41" textLength="372">early with the power of laser and that the intensity ration</tspan>
<tspan x="3790" dy="17.41" textLength="372">between neutral and charged exciton also decreases lin-</tspan>
</text>
<line x1="3991" y1="1019" x2="4363" y2="1019" stroke="#333" stroke-width="1.5"/>
<g class="c" style="font-size:13.5px">
<text x="3795" y="1057" style="font-size:9px">1</text>
<text x="3809" y="1066" textLength="355">K. F. Mak, C. Lee, J. Hone, J. Shan,  and T. F. Heinz,</text>
<text x="3809" y="1082.6" textLength="226">Phys. Rev. Lett. 105, 136805 (2010).</text>
<text x="4194" y="1057" style="font-size:9px">2</text>
<text x="4208" y="1066" textLength="355">A. Splendiani, L. Sun, Y. Zhang, T. Li, J. Kim, C.-Y.</text>
<text x="4208" y="1082.6" textLength="355">Chim, G. Galli,  and F. Wang, Nano Letters 10, 1271</text>
</g>

<text class="b">
<tspan x="4190" y="95" textLength="373">early. This demonstrates that below band gap excitation</tspan>
<tspan x="4190" dy="17.41" textLength="373">can be used to vary the electron density in the conduc-</tspan>
<tspan x="4190" dy="17.41" textLength="373">tion band and thus to independently tune the intensity</tspan>
<tspan x="4190" dy="17.41" textLength="141">of the trion emission.</tspan>
</text>
<text x="4214" y="164.6" textLength="326" class="h">C.   Temperature dependence of the band gap</text>
<text class="b">
<tspan x="4205" y="204" textLength="358">Finally, the temperature dependance of the emission</tspan>
<tspan x="4190" dy="17.41" textLength="373">is presented in Fig 6(a). Both exciton lines red shift</tspan>
<tspan x="4190" dy="17.41" textLength="373">as the temperatures increases and the charged exciton</tspan>
<tspan x="4190" dy="17.41" textLength="373">emission vanishes around 140 K. The energy of the emis-</tspan>
<tspan x="4190" dy="17.41" textLength="373">sion, obtained by fitting Gaussians, as a function of the</tspan>
<tspan x="4190" dy="17.41" textLength="373">temperature is presented in Fig 6b. Using the standard</tspan>
<tspan x="4190" dy="17.41" textLength="373">expression for the temperature dependence of a semicon-</tspan>
<tspan x="4190" dy="17.41" textLength="373">ductor band gap²⁹ we can write an expression for the</tspan>
<tspan x="4190" dy="17.41" textLength="373">exciton emission energy as a function of temperature,</tspan>
</text>
<g class="b" style="font-style:italic">
<text x="4228" y="386" textLength="128">E(T) = E₀ − S⟨ħω⟩[coth(</text>
<text x="4358" y="376" textLength="26">⟨ħω⟩</text>
<line x1="4356" y1="381" x2="4388" y2="381" stroke="#333" stroke-width="0.8"/>
<text x="4357" y="397" textLength="30">2k_BT</text>
<text x="4390" y="386" textLength="32">) − 1]</text>
<text x="4548" y="386" style="font-style:normal">(1)</text>
</g>
<text class="b">
<tspan x="4190" y="428" textLength="373">where E₀ is the emission energy at zero temperature,</tspan>
<tspan x="4190" dy="17.41" textLength="373">S is a dimensionless coupling constant and ⟨ħω⟩ is the</tspan>
<tspan x="4190" dy="17.41" textLength="373">average phonon energy. The best fit to the neutral ex-</tspan>
<tspan x="4190" dy="17.41" textLength="373">citon is obtained with (E₀ = 2.017 eV, S = 0.56 and</tspan>
<tspan x="4190" dy="17.41" textLength="373">⟨ħω⟩ ≃ 10.4 meV. The charged exciton is well fitted us-</tspan>
<tspan x="4190" dy="17.41" textLength="373">ing the same parameters except for the zero temperature</tspan>
<tspan x="4190" dy="17.41" textLength="373">emission energy E₀ = 1.973. Similar values for the av-</tspan>
<tspan x="4190" dy="17.41" textLength="373">erage phonon energy and coupling constant have been</tspan>
<tspan x="4190" dy="17.41" textLength="233">obtained for tungsten diselenide.²³</tspan>
</text>
<text x="4303" y="622" textLength="147" class="b">IV.   CONCLUSION</text>
<text class="b">
<tspan x="4205" y="662" textLength="358">Using μPL measurements, we have observed the emis-</tspan>
<tspan x="4190" dy="17.41" textLength="373">sion from charged and neutral exciton in an ungated sin-</tspan>
<tspan x="4190" dy="17.41" textLength="373">gle layer of WS₂. The trion emission is closely linked</tspan>
<tspan x="4190" dy="17.41" textLength="373">to the n-type nature of our crystals. Using two color</tspan>
<tspan x="4190" dy="17.41" textLength="373">μPL with above and below band gap illumination we</tspan>
<tspan x="4190" dy="17.41" textLength="373">can independently tune the trion/exciton intensity ratio.</tspan>
<tspan x="4190" dy="17.41" textLength="373">The below band gap excitations tunes the excess electron</tspan>
<tspan x="4190" dy="17.41" textLength="373">density in the conduction band via the dynamic photo-</tspan>
<tspan x="4190" dy="17.41" textLength="373">ionization of neutral donors. Since the photo-ionization</tspan>
<tspan x="4190" dy="17.41" textLength="373">threshold will be similar to the donor binding energy</tspan>
<tspan x="4190" dy="17.41" textLength="373">≃ 200meV this provides a possible method for the op-</tspan>
<tspan x="4190" dy="17.41" textLength="261">tical detection of far infrared radiation.</tspan>
</text>
<text x="4287" y="909" textLength="180" class="b">ACKNOWLEDGMENTS</text>
<text class="b">
<tspan x="4205" y="949.4" textLength="358">AAM acknowledges financial support from the French</tspan>
<tspan x="4190" dy="17.41" textLength="373">foreign ministry. This work was partially supported by</tspan>
<tspan x="4190" dy="17.41" textLength="321">NEXTVALLEY and by ANR project milliPICS.</tspan>
</text>
</svg>
<script>
(function(){
document.querySelectorAll("[textLength]").forEach(function(e){e.setAttribute("lengthAdjust","spacingAndGlyphs");});
var NS="http://www.w3.org/2000/svg";
function el(g,tag,a){var e=document.createElementNS(NS,tag);for(var k in a)e.setAttribute(k,a[k]);document.getElementById(g).appendChild(e);return e;}
function P(pts){return "M"+pts.map(function(p){return p[0].toFixed(1)+","+p[1].toFixed(1);}).join("L");}
function L(x,p,w){var d=(x-p)/w;return 1/(1+d*d);}
function line(g,pts,c,w,dash){var a={d:P(pts),fill:"none",stroke:c,"stroke-width":w};if(dash)a["stroke-dasharray"]=dash;el(g,"path",a);}
var seed=7;function rnd(){seed=(seed*9301+49297)%233280;return seed/233280;}
var r=[],k=[];
for(var x=1038;x<=1371;x++){
 if(x>1318&&x<1328)continue;
 r.push([x,348-92*L(x,1097,8.5)-18*L(x,1083,20)-16*L(x,1262,6)-30*L(x,1348,3.5)]);
 k.push([x,348-98*L(x,1091,7.5)-12*L(x,1078,16)-11*L(x,1264,8)-3*L(x,1348,4)]);
}
line("f1",k,"#111",1.1,"3,2");line("f1",r,"#e01010",2);
var i1=[],i2=[];
for(var x=1183;x<=1356;x++){i1.push([x,262-36*L(x,1228,8)-5*L(x,1306,5)]);i2.push([x,262-32*L(x,1224,8)-5*L(x,1304,5)]);}
line("f1",i1,"#333",0.8);line("f1",i2,"#e03030",0.8);
function spec(g,x0,x1,P0,S0,w,ws,yp,ye,s,c,noise){
 var lE=L(x0,P0,w)+s*L(x0,S0,ws), lP=1+s*L(P0,S0,ws);
 var A=(ye-yp)/(lP-lE), b=ye+A*lE, pts=[];
 for(var x=x0;x<=x1;x+=1){var y=b-A*(L(x,P0,w)+s*L(x,S0,ws));if(noise)y+=(rnd()-0.5)*noise*(0.4+0.6*L(x,P0,w));pts.push([x,y]);}
 line(g,pts,c,1.4);
}
var ca=[["#9a4de0",111,270,0.2],["#3b4bd6",129,291,0.16],["#a0a040",156,314,0.12],["#2e9e3a",174,341,0.1],["#f5a02a",203,367,0.05,7]];
ca.forEach(function(q){spec("f2",1436,1600,1535,1474,19,10,q[1],q[2],q[3],q[0],q[4]);});
var cb=[["#9a4de0",109,250,0.3],["#2a3aa8",129,272,0.25],["#4a5ae0",147,287,0.2],["#a0a040",165,306,0.15],["#2e9e3a",191,329,0.1],["#f5a02a",228,369,0.05]];
cb.forEach(function(q){spec("f2",1607,1769,1692,1657,20,10,q[1],q[2],q[3],q[0]);});
function ball(g,x,y,f,r){el(g,"circle",{cx:x,cy:y,r:r||5.5,fill:f,stroke:f=="#fff"?"#777":"none","stroke-width":1});}
[2412,2420,2428,2436,2445,2460,2475,2495,2510].forEach(function(x,i){ball("f3",x,135+(i<3?-1:1),"url(#gk)");});
[2412,2418,2424,2431,2438,2445].forEach(function(x,i){ball("f3",x,153+i*2.5,"#fff");});
[2412,2418,2424,2431,2438,2445].forEach(function(x,i){el("f3","circle",{cx:x,cy:200+i*3,r:5,fill:"#fff",stroke:"#e03030"});});
[[2412,229],[2418,233],[2426,236],[2436,238],[2450,241],[2464,243],[2477,244],[2495,245],[2510,246]].forEach(function(p){ball("f3",p[0],p[1],"url(#gr)");});
el("f3","line",{x1:2408,y1:188,x2:2520,y2:188,stroke:"#fff","stroke-width":4});
line("f3",[[2582,184],[2691,133]],"#e03030",1);
[[2582,184],[2590,181],[2600,178],[2606,176],[2620,168],[2632,162],[2645,157],[2658,150],[2675,142],[2690,134]].forEach(function(p){ball("f3",p[0],p[1],"url(#gg)");});
line("f3",[[2580,241],[2614,194]],"#e03030",1);
[[2580,240],[2586,230],[2592,222],[2598,213],[2606,204],[2614,196]].forEach(function(p){el("f3","circle",{cx:p[0],cy:p[1],r:5,fill:"#fff",stroke:"#999"});});
[[2412,352],[2415,340],[2419,332],[2423,324],[2428,318],[2432,313],[2436,312]].forEach(function(p){el("f3","circle",{cx:p[0],cy:p[1],r:5,fill:"#fff",stroke:"#555"});});
[[2412,369],[2416,360],[2420,352],[2427,342],[2433,337],[2436,330],[2450,321],[2464,300],[2477,298],[2493,272],[2510,284]].forEach(function(p){ball("f3",p[0],p[1],"url(#gk)");});
[[2412,378],[2418,375],[2424,372],[2431,370],[2437,367]].forEach(function(p){el("f3","circle",{cx:p[0],cy:p[1],r:5,fill:"#fff",stroke:"#e03030"});});
[[2412,380],[2420,378],[2428,376],[2437,374],[2450,371],[2464,367],[2477,364],[2493,359],[2510,356]].forEach(function(p){ball("f3",p[0],p[1],"url(#gr)");});
line("f3",[[2580,259],[2691,383]],"#111",1.1);line("f3",[[2582,256],[2611,383]],"#111",1.1);
[[2586,264],[2592,295],[2596,300],[2603,340],[2608,361]].forEach(function(p){el("f3","circle",{cx:p[0],cy:p[1],r:5,fill:"#fff",stroke:"#555"});});
[[2603,281],[2609,287],[2621,302],[2634,332],[2647,346],[2662,345],[2680,366]].forEach(function(p){ball("f3",p[0],p[1],"url(#gk)");});
function star(g,x,y,c){var t=el(g,"text",{x:x,y:y+5,"text-anchor":"middle",style:"font-family:'DejaVu Sans',sans-serif;font-size:15px;fill:"+c});t.textContent="★";}
[[3165,103],[3167,111],[3169,119],[3172,126],[3175,132],[3178,136],[3186,139]].forEach(function(p){star("f4",p[0],p[1],"#8b1a1a");});
[[3061,241],[3066,242],[3064,253],[3074,256],[3070,260],[3076,264],[3079,272],[3087,279],[3091,276]].forEach(function(p){star("f4",p[0],p[1],"#e01818");});
[[3011,268],[3015,270],[3012,279],[3018,285],[3022,293],[3025,299],[3035,304],[3031,306],[3051,297]].forEach(function(p){star("f4",p[0],p[1],"#1a2ee0");});
[[2961,312],[2965,318],[2986,323],[2993,330],[3003,337]].forEach(function(p){star("f4",p[0],p[1],"#d48a10");});
function arr(g,x1,y1,cx,cy,x2,y2){el(g,"path",{d:"M"+x1+","+y1+" Q"+cx+","+cy+" "+x2+","+y2,fill:"none",stroke:"#000","stroke-width":1.5});
 var a=Math.atan2(y2-cy,x2-cx),s=7;el(g,"path",{d:"M"+x2+","+y2+"L"+(x2-s*Math.cos(a-0.4))+","+(y2-s*Math.sin(a-0.4))+"L"+(x2-s*Math.cos(a+0.4))+","+(y2-s*Math.sin(a+0.4))+"Z",fill:"#000"});}
arr("f4",3181,152,3160,130,3154,99);arr("f4",3064,285,3048,270,3048,244);arr("f4",3025,311,3002,295,2999,271);arr("f4",2995,350,2962,342,2957,324);
function X5(e){return 3344+(e-1980)*3.31;} function Y5(v){return 325.3-v*38.7;}
var kb=[[1970,0.1],[1975,0.05],[1980,0.1],[1983,0.3],[1986,1.0],[1990,1.6],[1994,2.3],[1998,3.2],[2002,4.2],[2006,5.0],[2010,5.55],[2013,5.65],[2016,5.5],[2019,4.9],[2023,3.9],[2027,3.3],[2031,2.8],[2035,2.4],[2039,2.0],[2043,1.6],[2047,1.1],[2049,0.9],[2049.5,1.4],[2050,0.8],[2053,0.5],[2056,0.3],[2059.8,0.05]];
var rd=[[1970,0.1],[1976,0.1],[1980,0.15],[1983,0.6],[1986,2.0],[1989,2.9],[1992,3.15],[1995,3.2],[1998,3.2],[2001,3.5],[2004,4.3],[2007,5.2],[2010,5.65],[2012,5.6],[2015,5.0],[2018,4.3],[2022,3.6],[2026,3.0],[2030,2.5],[2034,2.0],[2038,1.5],[2042,1.1],[2046,0.6],[2050,0.3],[2054,0.1],[2056,0.0]];
function jag(a){var o=[];for(var i=0;i<a.length-1;i++){for(var t=0;t<4;t++){var e=a[i][0]+(a[i+1][0]-a[i][0])*t/4,v=a[i][1]+(a[i+1][1]-a[i][1])*t/4+(rnd()-0.5)*0.08;o.push([X5(e),Y5(Math.max(v,0))]);}}o.push([X5(a[a.length-1][0]),Y5(a[a.length-1][1])]);return o;}
line("f5",jag(rd),"#e01010",1.4,"2,1.5");line("f5",jag(kb),"#000",2);
var pb=[[3316,504],[3351,478],[3391,440],[3403,425],[3427,401]];
line("f5",[[3316,505],[3430,398]],"#1a2ee0",1);pb.forEach(function(p){ball("f5",p[0],p[1],"url(#gb)",5.5);});
var pc=[[3484,406],[3518,432],[3559,484],[3570,496],[3594,499]];
line("f5",[[3484,400],[3605,515]],"#e01010",1);
pc.forEach(function(p){el("f5","path",{d:"M"+p[0]+","+(p[1]-13)+"L"+p[0]+","+(p[1]+13)+"M"+(p[0]-4)+","+(p[1]-13)+"L"+(p[0]+4)+","+(p[1]-13)+"M"+(p[0]-4)+","+(p[1]+13)+"L"+(p[0]+4)+","+(p[1]+13),stroke:"#e01010","stroke-width":1.5});ball("f5",p[0],p[1],"url(#gr)",5.5);});
function X6(e){return 3862+(e-1900)*1.41;} function Y6(v){return 289.7-v*51.2;}
var c6=[["#6b2a20",0.42,2005,0.05],["#e040e0",0.62,2010,0.06],["#e0a030",0.8,2012,0.07],["#2030e0",0.88,2013,0.08],["#30d030",0.95,2017,0.08],["#e02020",2.45,2020,0.2],["#222",3.7,2020,0.32]];
c6.forEach(function(q){var pts=[];for(var e=1900;e<=2100;e+=1){var v=q[1]*Math.exp(-Math.pow((e-q[2])/17,2))*0.75+q[1]*0.25*L(e,q[2],14)+q[3]*L(e,1975,14)+0.03+(rnd()-0.5)*0.02;pts.push([X6(e),Y6(v)]);}line("f6",pts,q[0],1.2);});
var lc=["#222","#e02020","#30d030","#2030e0","#e0a030","#e040e0","#6b2a20"],ly=[103,120.5,138,155,171.5,188.7,205.5];
lc.forEach(function(c,i){el("f6","line",{x1:3882,y1:ly[i],x2:3912,y2:ly[i],stroke:c,"stroke-width":1.5});});
function X6b(T){return 3862.4+T*1.254;} function Y6b(E){return 387.3-(E-2.0)*1570;}
var bl=[],rl=[];
for(var T=10;T<=220;T+=2){bl.push([X6b(T),Y6b(2.0178-0.000085*Math.max(0,T-30))]);}
for(var T=10;T<=145;T+=2){rl.push([X6b(T),Y6b(1.9762-0.00007*Math.max(0,T-20))]);}
line("f6",bl,"#1a2ee0",2.5);line("f6",rl,"#e01010",2.5);
[10,14,18,22,26,42,46,52,55,60,67,75,96,107,135,138,148,156,162,166,170,174,182,190,198,204,213,218].forEach(function(T){var y=Y6b(2.0178-0.000085*Math.max(0,T-30))+(rnd()-0.5)*3;el("f6","circle",{cx:X6b(T),cy:y,r:4.5,fill:"#4a5af0",stroke:"#1020c0","stroke-width":1.5});});
[10,14,18,25,32,36,40,43,46,50,55,70,75,97,107,130,134,138,144].forEach(function(T){var y=Y6b(1.9762-0.00007*Math.max(0,T-20))+(rnd()-0.5)*3+(T==144?8:0);el("f6","path",{d:"M"+X6b(T)+","+(y-8)+"L"+X6b(T)+","+(y+8),stroke:"#e01010","stroke-width":1.2});el("f6","circle",{cx:X6b(T),cy:y,r:4.5,fill:"#f04040",stroke:"#c00000","stroke-width":1.5});});
})();
</script>
</body></html>
